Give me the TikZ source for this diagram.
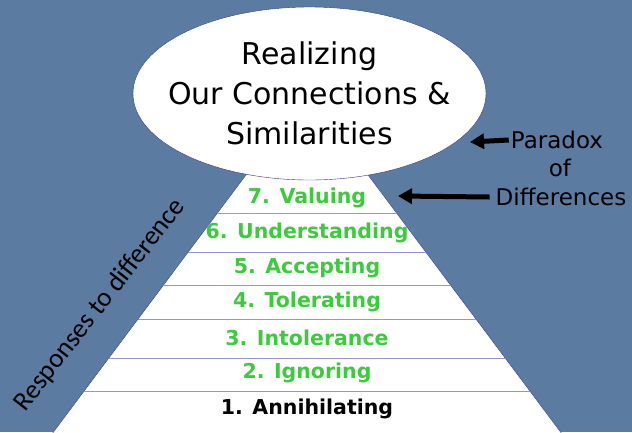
\documentclass[tikz,border=0pt]{standalone}
\usepackage{fontspec}
\setmainfont{DejaVu Sans}
\newfontfamily\sidefont{Carlito}
\usetikzlibrary{shapes.geometric,arrows.meta}

\definecolor{slate}{RGB}{91,123,160}
\definecolor{steplime}{RGB}{60,203,60}
\definecolor{rimblue}{RGB}{51,51,153}
\definecolor{rulelav}{RGB}{150,150,204}

\tikzset{
  steptext/.style={font=\bfseries\fontsize{20.5}{24}\selectfont, text=steplime, inner sep=0pt},
  sidenote/.style={font=\fontsize{23}{28}\selectfont, inner sep=2pt},
  bigarrow/.style={line width=5pt, line cap=butt, -{Triangle[length=14pt,width=15pt]}}
}

\begin{document}
\begin{tikzpicture}[line cap=round,line join=round,x=1pt,y=-1pt]

\def\cx{307} %centre line of the pyramid
\def\ey{93.5} %ellipse centre height, also where the apex sits
\def\hs{0.749} %half width gained per unit of drop
\def\bot{440} %pyramid base, below the edge

%background
\fill[slate] (0,0) rectangle (632,432);
\useasboundingbox (0,0) rectangle (632,432);
\clip (0,0) rectangle (632,432);

%pyramid
\coordinate (apex) at (\cx,\ey);
\draw[rimblue,fill=white,thin] (apex) -- ({\cx-\hs*(\bot-\ey)},\bot) -- ({\cx+\hs*(\bot-\ey)},\bot) -- cycle;

%rules between the steps
\foreach \ry in {213,252,285,319,358,391}
  \draw[rulelav,thick] ({\cx-\hs*(\ry-\ey)},\ry) -- ({\cx+\hs*(\ry-\ey)},\ry);

%steps
\foreach \n/\ty/\txt in {7/198/Valuing,6/233/Understanding,5/268/Accepting,4/302/Tolerating,3/338/Intolerance,2/373/Ignoring}
  \node[steptext] (step\n) at (\cx,\ty) {\n. \txt};
\node[steptext,text=black] (step1) at (\cx,409) {1. Annihilating};

%top ellipse
\node[ellipse,draw=rimblue,fill=white,thin,minimum width=353pt,minimum height=173pt,inner sep=0pt] (goal) at (309.5,\ey) {};
\node[align=center,font=\fontsize{30}{40}\selectfont,inner sep=0pt] (goaltext) at (goal.center)
  {Realizing\\Our Connections \&\\Similarities};

%side labels
\node[sidenote] (paradox) at (557,140) {Paradox};
\node[sidenote] (of) at (560,168) {of};
\node[sidenote,inner xsep=6pt] (differences) at (561,197) {Differences};
\coordinate (tipa) at (470,142);
\coordinate (tipb) at (398,196);
\draw[bigarrow] (paradox.west) -- (tipa);
\draw[bigarrow] (differences.west) -- (tipb);

\node[font=\sidefont\fontsize{27}{30}\selectfont,rotate=52] (responses) at (100,305) {Responses to difference};

\end{tikzpicture}
\end{document}
